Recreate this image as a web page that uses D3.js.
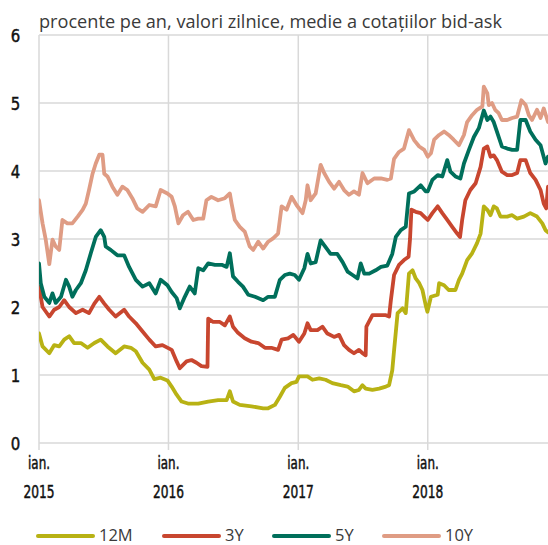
<!DOCTYPE html>
<html><head><meta charset="utf-8">
<script src="https://cdn.jsdelivr.net/npm/d3@7"></script>
<style>
html,body{margin:0;padding:0;background:#fff;}
svg{display:block;}
</style></head>
<body>
<svg id="chart" width="548" height="545"></svg>
<script>
const title = "procente pe an, valori zilnice, medie a cotațiilor bid-ask";
const yTicks = [0,1,2,3,4,5,6];
const xTickDates = ["2015-01-01","2016-01-01","2017-01-01","2018-01-01"];
const xTickLine1 = ["ian.","ian.","ian.","ian."];
const xTickLine2 = ["2015","2016","2017","2018"];
const seriesNames = ["12M","3Y","5Y","10Y"];
const seriesColors = ["#b8b214","#c8462f","#006f5b","#df9c84"];

const dates12M = ["2015-01-01","2015-01-11","2015-01-30","2015-02-13","2015-02-27","2015-03-13","2015-03-27","2015-04-10","2015-04-29","2015-05-18","2015-06-06","2015-06-24","2015-07-13","2015-08-05","2015-08-29","2015-09-17","2015-10-01","2015-10-20","2015-11-08","2015-11-22","2015-12-10","2015-12-29","2016-01-10","2016-01-24","2016-02-07","2016-02-25","2016-03-25","2016-04-22","2016-05-20","2016-06-13","2016-06-22","2016-07-01","2016-07-20","2016-08-22","2016-09-24","2016-10-08","2016-10-27","2016-11-10","2016-11-24","2016-12-13","2016-12-27","2017-01-03","2017-01-27","2017-02-10","2017-03-01","2017-03-19","2017-04-07","2017-05-01","2017-05-20","2017-06-07","2017-06-21","2017-07-01","2017-07-10","2017-07-29","2017-08-17","2017-09-05","2017-09-14","2017-09-23","2017-09-28","2017-10-08","2017-10-22","2017-10-31","2017-11-09","2017-11-19","2017-11-28","2017-12-08","2017-12-17","2017-12-26","2017-12-31","2018-01-10","2018-01-29","2018-02-02","2018-02-16","2018-03-01","2018-03-20","2018-03-30","2018-04-08","2018-04-22","2018-05-06","2018-05-20","2018-05-30","2018-06-08","2018-06-18","2018-06-27","2018-07-06","2018-07-15","2018-07-25","2018-08-13","2018-08-27","2018-09-10","2018-09-29","2018-10-17","2018-11-05","2018-11-20","2018-11-29","2018-12-06"];
const values12M = [1.61,1.42,1.32,1.44,1.42,1.52,1.57,1.47,1.47,1.40,1.47,1.52,1.42,1.32,1.42,1.40,1.35,1.18,1.08,0.94,0.96,0.92,0.83,0.71,0.61,0.58,0.58,0.61,0.63,0.63,0.76,0.61,0.56,0.54,0.51,0.51,0.56,0.68,0.81,0.88,0.90,0.98,0.98,0.93,0.95,0.93,0.88,0.85,0.83,0.76,0.78,0.85,0.80,0.78,0.80,0.83,0.85,1.07,1.36,1.91,1.98,1.91,2.49,2.54,2.42,2.35,2.25,2.03,1.93,2.15,2.18,2.35,2.32,2.25,2.25,2.40,2.49,2.69,2.79,2.94,3.08,3.48,3.43,3.35,3.48,3.45,3.33,3.33,3.35,3.30,3.33,3.38,3.33,3.23,3.13,3.10];

const dates3Y = ["2015-01-01","2015-01-11","2015-01-30","2015-02-13","2015-02-27","2015-03-13","2015-03-27","2015-04-15","2015-05-04","2015-05-22","2015-06-06","2015-06-20","2015-07-04","2015-07-18","2015-08-05","2015-08-29","2015-09-12","2015-10-01","2015-10-20","2015-11-08","2015-11-26","2015-12-15","2016-01-10","2016-01-24","2016-02-02","2016-02-21","2016-03-06","2016-03-20","2016-04-03","2016-04-20","2016-04-22","2016-05-06","2016-05-25","2016-06-08","2016-06-22","2016-07-01","2016-07-15","2016-08-03","2016-08-22","2016-09-10","2016-09-29","2016-10-17","2016-11-05","2016-11-15","2016-12-03","2016-12-18","2017-01-03","2017-01-18","2017-01-27","2017-02-05","2017-02-24","2017-03-10","2017-03-24","2017-04-12","2017-04-26","2017-05-10","2017-05-24","2017-06-07","2017-06-21","2017-07-01","2017-07-10","2017-07-12","2017-07-29","2017-08-17","2017-09-05","2017-09-14","2017-09-19","2017-09-28","2017-10-12","2017-10-26","2017-11-08","2017-11-12","2017-11-16","2017-11-28","2017-12-12","2017-12-22","2018-01-01","2018-01-14","2018-01-29","2018-02-11","2018-02-25","2018-03-11","2018-03-25","2018-04-02","2018-04-08","2018-04-17","2018-05-01","2018-05-16","2018-05-30","2018-06-08","2018-06-18","2018-06-27","2018-07-06","2018-07-15","2018-07-29","2018-08-13","2018-08-27","2018-09-10","2018-09-19","2018-10-04","2018-10-17","2018-11-01","2018-11-15","2018-11-24","2018-12-01","2018-12-06"];
const values3Y = [2.30,2.00,1.86,1.96,2.00,2.10,2.00,1.91,1.96,1.91,2.05,2.15,2.05,1.96,1.86,1.96,1.86,1.76,1.64,1.52,1.42,1.44,1.37,1.20,1.10,1.20,1.22,1.18,1.13,1.12,1.83,1.78,1.78,1.73,1.86,1.71,1.62,1.54,1.49,1.47,1.40,1.40,1.37,1.52,1.54,1.59,1.49,1.61,1.76,1.66,1.66,1.71,1.61,1.56,1.59,1.44,1.37,1.32,1.37,1.32,1.29,1.71,1.88,1.88,1.88,1.86,2.10,2.47,2.62,2.69,2.74,3.00,3.43,3.40,3.38,3.33,3.28,3.38,3.48,3.38,3.28,3.18,3.08,3.03,3.28,3.57,3.72,3.82,4.06,4.33,4.36,4.21,4.23,4.16,3.99,3.94,3.94,3.97,4.16,4.16,3.97,3.87,3.72,3.52,3.45,3.77];

const dates5Y = ["2015-01-01","2015-01-06","2015-01-16","2015-01-30","2015-02-08","2015-02-17","2015-03-04","2015-03-18","2015-03-27","2015-04-05","2015-04-15","2015-04-29","2015-05-13","2015-05-27","2015-06-10","2015-06-24","2015-07-04","2015-07-08","2015-07-22","2015-08-10","2015-08-29","2015-09-12","2015-10-01","2015-10-20","2015-11-08","2015-11-26","2015-12-10","2015-12-29","2016-01-10","2016-01-24","2016-02-02","2016-02-16","2016-03-01","2016-03-15","2016-03-25","2016-04-08","2016-04-22","2016-05-11","2016-05-30","2016-06-13","2016-06-22","2016-07-01","2016-07-15","2016-07-29","2016-08-13","2016-09-01","2016-09-24","2016-10-08","2016-10-27","2016-11-10","2016-11-24","2016-12-08","2016-12-22","2017-01-03","2017-01-18","2017-01-27","2017-02-05","2017-02-19","2017-03-05","2017-03-19","2017-04-02","2017-04-21","2017-05-06","2017-05-20","2017-06-03","2017-06-17","2017-06-26","2017-07-06","2017-07-20","2017-08-07","2017-08-22","2017-09-09","2017-09-23","2017-10-03","2017-10-17","2017-10-31","2017-11-09","2017-11-24","2017-12-12","2017-12-26","2018-01-01","2018-01-14","2018-01-29","2018-02-11","2018-02-25","2018-03-06","2018-03-20","2018-04-03","2018-04-13","2018-04-27","2018-05-11","2018-05-25","2018-06-08","2018-06-18","2018-06-27","2018-07-06","2018-07-15","2018-07-29","2018-08-13","2018-08-27","2018-09-10","2018-09-19","2018-10-04","2018-10-17","2018-11-01","2018-11-15","2018-11-29","2018-12-06"];
const values5Y = [2.64,2.35,2.15,2.06,2.20,2.06,2.15,2.40,2.30,2.15,2.25,2.35,2.54,2.79,3.03,3.13,3.03,2.89,2.84,2.76,2.76,2.59,2.40,2.30,2.35,2.20,2.40,2.32,2.22,2.13,1.98,2.15,2.30,2.20,2.57,2.54,2.64,2.62,2.62,2.59,2.79,2.45,2.37,2.30,2.18,2.15,2.10,2.15,2.15,2.40,2.47,2.49,2.47,2.40,2.57,2.78,2.64,2.66,2.98,2.88,2.78,2.78,2.66,2.52,2.47,2.42,2.64,2.49,2.49,2.54,2.59,2.61,2.78,3.03,3.13,3.18,3.67,3.70,3.79,3.70,3.70,3.87,3.94,3.92,4.16,3.99,3.92,3.89,4.11,4.31,4.50,4.63,4.89,4.75,4.80,4.72,4.58,4.36,4.33,4.31,4.31,4.75,4.75,4.58,4.46,4.38,4.11,4.21];

const dates10Y = ["2015-01-01","2015-01-11","2015-01-20","2015-01-30","2015-02-08","2015-02-17","2015-02-27","2015-03-08","2015-03-22","2015-04-05","2015-04-20","2015-05-04","2015-05-13","2015-05-22","2015-06-01","2015-06-10","2015-06-20","2015-06-29","2015-07-04","2015-07-13","2015-07-27","2015-08-10","2015-08-24","2015-09-07","2015-09-21","2015-10-05","2015-10-20","2015-11-08","2015-11-26","2015-12-10","2015-12-29","2016-01-10","2016-01-19","2016-01-29","2016-02-11","2016-02-25","2016-03-11","2016-03-25","2016-04-08","2016-04-17","2016-05-01","2016-05-20","2016-06-08","2016-06-22","2016-06-27","2016-07-06","2016-07-20","2016-08-03","2016-08-17","2016-08-27","2016-09-10","2016-09-24","2016-10-08","2016-10-22","2016-11-05","2016-11-15","2016-11-29","2016-12-13","2016-12-27","2017-01-13","2017-01-22","2017-01-27","2017-02-05","2017-02-19","2017-03-05","2017-03-15","2017-03-29","2017-04-12","2017-04-26","2017-05-10","2017-05-24","2017-06-07","2017-06-21","2017-07-01","2017-07-15","2017-08-03","2017-08-22","2017-09-09","2017-09-19","2017-09-28","2017-10-12","2017-10-26","2017-11-09","2017-11-24","2017-12-08","2017-12-22","2018-01-01","2018-01-10","2018-01-19","2018-02-02","2018-02-16","2018-03-01","2018-03-15","2018-03-30","2018-04-13","2018-04-22","2018-05-06","2018-05-20","2018-06-04","2018-06-08","2018-06-18","2018-06-22","2018-07-01","2018-07-10","2018-07-20","2018-07-29","2018-08-13","2018-08-27","2018-09-10","2018-09-22","2018-10-04","2018-10-13","2018-10-22","2018-11-05","2018-11-15","2018-11-24","2018-12-06"];
const values10Y = [3.57,3.23,2.99,2.63,2.99,2.89,2.84,3.28,3.23,3.23,3.33,3.43,3.52,3.72,3.96,4.11,4.24,4.24,3.96,3.92,3.77,3.65,3.77,3.72,3.60,3.45,3.40,3.50,3.48,3.72,3.67,3.62,3.48,3.23,3.35,3.40,3.28,3.30,3.30,3.57,3.62,3.57,3.60,3.67,3.52,3.28,3.18,3.11,2.89,2.84,2.96,2.86,2.96,3.01,3.08,3.48,3.43,3.62,3.50,3.38,3.57,3.79,3.57,3.67,4.09,3.97,3.84,3.74,3.84,3.72,3.65,3.70,3.65,3.97,3.82,3.89,3.89,3.87,3.89,4.18,4.28,4.33,4.60,4.45,4.36,4.31,4.21,4.26,4.46,4.53,4.58,4.53,4.46,4.38,4.53,4.72,4.82,4.90,4.95,5.24,5.14,4.97,5.00,4.90,4.85,4.75,4.75,4.78,4.80,5.04,4.97,4.82,4.75,4.90,4.78,4.92,4.72];

const parse = d3.timeParse("%Y-%m-%d");
const series = [
  {name: seriesNames[0], color: seriesColors[0], dates: dates12M, values: values12M},
  {name: seriesNames[1], color: seriesColors[1], dates: dates3Y, values: values3Y},
  {name: seriesNames[2], color: seriesColors[2], dates: dates5Y, values: values5Y},
  {name: seriesNames[3], color: seriesColors[3], dates: dates10Y, values: values10Y}
];
series.forEach(s => { s.points = s.dates.map((d,i) => ({date: parse(d), value: s.values[i]})); });

const svg = d3.select("#chart");
const plotL = 39, plotR = 548, plotT = 35, plotB = 443;
const x = d3.scaleTime().domain([parse("2015-01-01"), parse("2018-12-06")]).range([plotL, plotR]);
const y = d3.scaleLinear().domain([0, 6]).range([plotB, plotT]);

const condensed = "'DejaVu Sans Condensed','Liberation Sans Narrow',sans-serif";

svg.append("text").attr("x", plotL).attr("y", 28)
  .attr("font-family", "'Open Sans','Noto Sans',sans-serif").attr("font-size", 18)
  .attr("fill", "#3a3a3a").attr("textLength", 463).attr("lengthAdjust", "spacingAndGlyphs")
  .text(title);

const grid = svg.append("g");
grid.selectAll("line.h").data(yTicks).enter().append("line")
  .attr("x1", plotL).attr("x2", plotR).attr("y1", d => y(d)).attr("y2", d => y(d))
  .attr("stroke", "#d9d9d9").attr("stroke-width", 1.5);
grid.selectAll("line.v").data(xTickDates).enter().append("line")
  .attr("x1", d => x(parse(d))).attr("x2", d => x(parse(d)))
  .attr("y1", plotT).attr("y2", plotB + 7)
  .attr("stroke", "#d9d9d9").attr("stroke-width", 1.5);

svg.append("g").selectAll("text").data(yTicks).enter().append("text")
  .attr("x", 15.5).attr("y", d => y(d) + 7).attr("text-anchor", "middle")
  .attr("font-family", condensed).attr("font-size", 18).attr("fill", "#111")
  .attr("stroke", "#111").attr("stroke-width", 0.45)
  .attr("textLength", 9.5).attr("lengthAdjust", "spacingAndGlyphs")
  .text(d => d);

const xl = svg.append("g");
xl.selectAll("text.l1").data(xTickDates).enter().append("text")
  .attr("x", d => x(parse(d))).attr("y", 469).attr("text-anchor", "middle")
  .attr("font-family", condensed).attr("font-size", 17).attr("fill", "#111")
  .attr("stroke", "#111").attr("stroke-width", 0.45)
  .attr("textLength", 22).attr("lengthAdjust", "spacingAndGlyphs")
  .text((d,i) => xTickLine1[i]);
xl.selectAll("text.l2").data(xTickDates).enter().append("text")
  .attr("x", d => x(parse(d))).attr("y", 498).attr("text-anchor", "middle")
  .attr("font-family", condensed).attr("font-size", 17).attr("fill", "#111")
  .attr("stroke", "#111").attr("stroke-width", 0.45)
  .attr("textLength", 31).attr("lengthAdjust", "spacingAndGlyphs")
  .text((d,i) => xTickLine2[i]);

svg.append("clipPath").attr("id", "clip").append("rect")
  .attr("x", plotL).attr("y", 0).attr("width", plotR - plotL).attr("height", plotB + 10);
const line = d3.line().x(d => x(d.date)).y(d => y(d.value));
svg.append("g").attr("clip-path", "url(#clip)").selectAll("path").data(series).enter().append("path")
  .attr("d", s => line(s.points)).attr("fill", "none")
  .attr("stroke", s => s.color).attr("stroke-width", 3.8)
  .attr("stroke-linejoin", "round").attr("stroke-linecap", "round");

const legendLineX = [38, 164, 274, 384];
const lg = svg.append("g");
series.forEach((s, i) => {
  lg.append("line").attr("x1", legendLineX[i]).attr("x2", legendLineX[i] + 55)
    .attr("y1", 536).attr("y2", 536).attr("stroke", s.color).attr("stroke-width", 4).attr("stroke-linecap", "round");
  lg.append("text").attr("x", legendLineX[i] + 61).attr("y", 541)
    .attr("font-family", "'Open Sans','Noto Sans',sans-serif").attr("font-size", 16.5).attr("fill", "#3a3a3a")
    .text(s.name);
});
</script>
</body></html>
